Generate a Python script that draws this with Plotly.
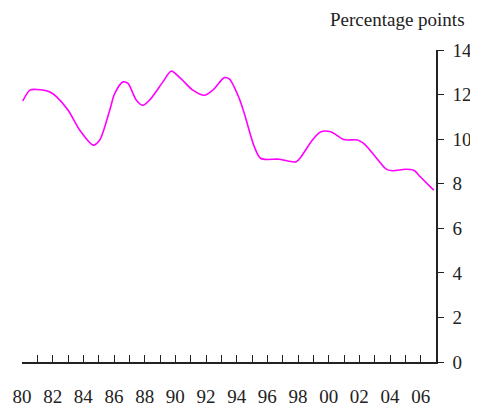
import plotly.graph_objects as go

# Data
years = [1980.05, 1980.52, 1980.96, 1981.82, 1982.26, 1983.01, 1983.77, 1984.64,
         1985.07, 1985.72, 1986.05, 1986.59, 1986.91, 1987.46, 1987.89, 1988.32,
         1989.19, 1989.73, 1990.38, 1991.14, 1991.90, 1992.44, 1993.20, 1993.52,
         1994.17, 1994.50, 1995.15, 1995.58, 1996.78, 1997.86, 1998.19, 1998.94,
         1999.49, 2000.14, 2001.00, 2001.87, 2002.30, 2003.06, 2003.71, 2004.14,
         2005.01, 2005.55, 2005.99, 2006.85]
values = [11.72, 12.20, 12.23, 12.12, 11.90, 11.30, 10.40, 9.73,
          9.96, 11.30, 12.05, 12.57, 12.50, 11.75, 11.52, 11.75,
          12.57, 13.05, 12.70, 12.20, 11.97, 12.20, 12.76, 12.70,
          11.82, 11.15, 9.66, 9.13, 9.10, 8.98, 9.20, 9.96,
          10.33, 10.33, 9.98, 9.96, 9.80, 9.20, 8.68, 8.58,
          8.65, 8.60, 8.30, 7.71]

tick_years = list(range(1980, 2007))
tick_labels = [f"{y % 100:02d}" if (y - 1980) % 2 == 0 else "" for y in tick_years]
y_ticks = [0, 2, 4, 6, 8, 10, 12, 14]
unit_label = "Percentage points"

FONT = "Liberation Serif"

fig = go.Figure()
fig.add_trace(go.Scatter(
    x=years, y=values, mode="lines",
    line=dict(color="#FF00FF", width=1.6, shape="spline", smoothing=0.8),
    showlegend=False, hoverinfo="skip",
))

# The page body adds an 8px offset, so the figure is sized 470x401
fig.update_layout(
    width=470, height=401, autosize=False,
    margin=dict(l=14, r=42, t=42, b=47),
    paper_bgcolor="white", plot_bgcolor="white",
    font=dict(family=FONT, size=19, color="#222222"),
    xaxis=dict(
        range=[1980, 2007], tickmode="array", tickvals=tick_years, ticktext=tick_labels,
        ticks="inside", ticklen=7, tickwidth=1, tickcolor="#222222",
        showline=True, linecolor="#222222", linewidth=1.5,
        showgrid=False, zeroline=False, ticklabelstandoff=16, automargin=False,
    ),
    yaxis=dict(
        range=[0, 14], side="right", tickvals=y_ticks,
        ticks="outside", ticklen=6, tickwidth=1, tickcolor="#222222",
        showline=True, linecolor="#222222", linewidth=1.5,
        showgrid=False, zeroline=False, ticklabelstandoff=5, automargin=False,
    ),
    annotations=[dict(
        text=unit_label, xref="paper", yref="paper", x=1, y=1,
        xanchor="right", yanchor="bottom", xshift=31, yshift=18,
        showarrow=False, font=dict(family=FONT, size=19, color="#222222"),
    )],
)

fig.write_html("out.html")
